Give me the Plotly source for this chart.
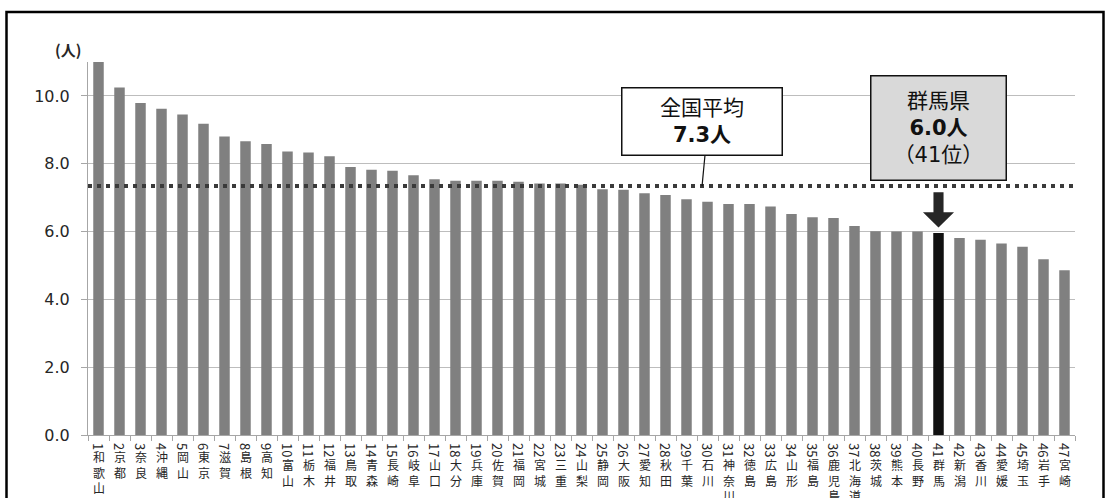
import plotly.graph_objects as go

# Physicians per 100k (人) by prefecture, ranked
ranks = list(range(1, 48))
prefectures = [
    "和歌山", "京都", "奈良", "沖縄", "岡山", "東京", "滋賀", "島根", "高知", "富山",
    "栃木", "福井", "鳥取", "青森", "長崎", "岐阜", "山口", "大分", "兵庫", "佐賀",
    "福岡", "宮城", "三重", "山梨", "静岡", "大阪", "愛知", "秋田", "千葉", "石川",
    "神奈川", "徳島", "広島", "山形", "福島", "鹿児島", "北海道", "茨城", "熊本", "長野",
    "群馬", "新潟", "香川", "愛媛", "埼玉", "岩手", "宮崎",
]
values = [
    11.0, 10.25, 9.79, 9.62, 9.45, 9.18, 8.80, 8.66, 8.58, 8.36,
    8.33, 8.22, 7.90, 7.82, 7.79, 7.66, 7.54, 7.50, 7.50, 7.50,
    7.47, 7.42, 7.42, 7.38, 7.25, 7.23, 7.13, 7.08, 6.95, 6.88,
    6.81, 6.81, 6.74, 6.52, 6.42, 6.40, 6.16, 6.01, 6.00, 6.00,
    5.96, 5.81, 5.76, 5.65, 5.55, 5.18, 4.86,
]
national_avg = 7.34
y_ticks = [0, 2, 4, 6, 8, 10]
highlight = "群馬"

h_idx = prefectures.index(highlight)
h_rank = ranks[h_idx]
h_value = values[h_idx]

BAR = "#808080"
DARK = "#111111"
AXIS = "#a6a6a6"
GRID = "#bdbdbd"
TXT = "#262626"
NUM_FONT = "DejaVu Sans, Noto Sans CJK JP"
JP_FONT = "Noto Sans CJK JP"

colors = [DARK if p == highlight else BAR for p in prefectures]

fig = go.Figure(
    go.Bar(
        x=ranks,
        y=values,
        width=0.5,
        marker=dict(color=colors, line=dict(width=0)),
        hoverinfo="skip",
    )
)

# Plot area geometry (px) used for paper-relative decorations
W, H = 1111, 498
ML, MR, MT, MB = 88, 36, 62, 63
PW, PH = W - ML - MR, H - MT - MB


def px_x(p):
    return (p - ML) / PW


def px_y(p):
    return (H - MB - p) / PH


fig.update_layout(
    width=W,
    height=H,
    margin=dict(l=ML, r=MR, t=MT, b=MB),
    paper_bgcolor="white",
    plot_bgcolor="white",
    showlegend=False,
    bargap=0.5,
    xaxis=dict(
        range=[0.5, 47.5],
        tickmode="array",
        tickvals=ranks,
        showticklabels=False,
        ticks="",
        showline=True,
        linecolor=AXIS,
        linewidth=1,
        showgrid=False,
        zeroline=False,
        fixedrange=True,
        minor=dict(
            tickmode="linear",
            tick0=0.5,
            dtick=1,
            ticks="outside",
            ticklen=5,
            tickcolor=AXIS,
            tickwidth=1,
            showgrid=False,
        ),
    ),
    yaxis=dict(
        range=[0, 11],
        tickmode="array",
        tickvals=y_ticks,
        tickformat=".1f",
        ticks="outside",
        ticklen=6,
        tickcolor=AXIS,
        ticklabelstandoff=8,
        tickfont=dict(family=NUM_FONT, size=16, color=TXT),
        showline=True,
        linecolor=AXIS,
        linewidth=1,
        showgrid=True,
        gridcolor=GRID,
        gridwidth=1,
        zeroline=False,
        fixedrange=True,
    ),
)

annotations = []

# Category labels written vertically: rank digits turned sideways,
# then the prefecture name stacked one character per line
LABEL_SIZE = 12
for r, name in zip(ranks, prefectures):
    nd = len(str(r))
    annotations.append(
        dict(
            x=r, y=0, xref="x", yref="paper",
            text=str(r), showarrow=False, textangle=90,
            xanchor="center", yanchor="middle", borderpad=0,
            yshift=-(8.5 + 3.0 * nd),
            font=dict(family=JP_FONT, size=13, color=TXT),
        )
    )
    first_center = 11.5 + 8.0 * nd
    annotations.append(
        dict(
            x=r, y=0, xref="x", yref="paper",
            text="<br>".join(name), showarrow=False,
            xanchor="center", yanchor="top", borderpad=0,
            yshift=-(first_center - 0.65 * LABEL_SIZE),
            font=dict(family=JP_FONT, size=LABEL_SIZE, color=TXT),
        )
    )

# Unit label
annotations.append(
    dict(
        x=px_x(68), y=px_y(50), xref="paper", yref="paper",
        text="<b>(人)</b>", showarrow=False,
        xanchor="center", yanchor="middle",
        font=dict(family=JP_FONT, size=15, color=TXT),
    )
)

# National average call-out
annotations.append(
    dict(
        x=29.75, y=9.26, xref="x", yref="y",
        text=f"全国平均<br><b>{national_avg:.1f}人</b>",
        showarrow=False,
        xanchor="center", yanchor="middle",
        width=157, height=64,
        bgcolor="white", bordercolor="#111111", borderwidth=1.5, borderpad=1,
        font=dict(family=NUM_FONT, size=21, color="#111111"),
    )
)

# Highlighted prefecture call-out
annotations.append(
    dict(
        x=ranks[h_idx], y=9.06, xref="x", yref="y",
        text=f"{highlight}県<br><b>{h_value:.1f}人</b><br>（{h_rank}位）",
        showarrow=False,
        xanchor="center", yanchor="middle",
        width=132, height=101,
        bgcolor="#d9d9d9", bordercolor="#111111", borderwidth=1.5, borderpad=1,
        font=dict(family=NUM_FONT, size=21, color="#111111"),
    )
)

fig.update_layout(annotations=annotations)

shapes = []

# Dotted national-average line
shapes.append(
    dict(
        type="line", xref="paper", yref="y",
        x0=0, x1=1, y0=national_avg, y1=national_avg,
        line=dict(color="#3a3a3a", width=4, dash="4px,5px"),
        layer="above",
    )
)

# Leader from the average call-out to the line
shapes.append(
    dict(
        type="line", xref="x", yref="y",
        x0=29.88, y0=8.25, x1=29.74, y1=national_avg,
        line=dict(color="#111111", width=1.2),
        layer="above",
    )
)

# Block arrow pointing at the highlighted bar
cx = ranks[h_idx]
sw, hw = 0.24, 0.74
y_top, y_base, y_tip = 7.16, 6.57, 6.12
arrow_path = (
    f"M {cx - sw},{y_top} L {cx + sw},{y_top} L {cx + sw},{y_base} "
    f"L {cx + hw},{y_base} L {cx},{y_tip} L {cx - hw},{y_base} "
    f"L {cx - sw},{y_base} Z"
)
shapes.append(
    dict(
        type="path", xref="x", yref="y", path=arrow_path,
        fillcolor="#262626", line=dict(width=0), layer="above",
    )
)

# Outer frame
shapes.append(
    dict(
        type="rect", xref="paper", yref="paper",
        x0=px_x(6.5), x1=px_x(1103.5), y0=px_y(520), y1=px_y(12),
        line=dict(color="#000000", width=2.5),
        fillcolor="rgba(0,0,0,0)", layer="above",
    )
)

fig.update_layout(shapes=shapes)

fig.write_html("out.html", config=dict(displayModeBar=False))
